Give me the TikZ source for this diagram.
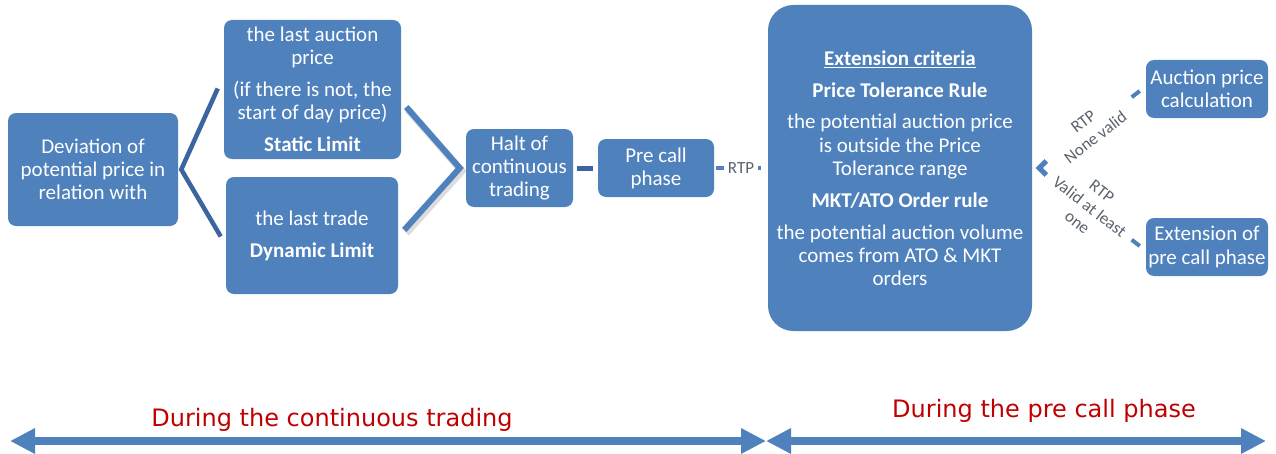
\documentclass[tikz,border=0pt]{standalone}
\usepackage{fontspec}
\setmainfont{Carlito}
\newfontfamily\djv{DejaVu Sans}
\usetikzlibrary{arrows.meta,calc}
\definecolor{boxblue}{RGB}{79,129,189}
\definecolor{darkln}{RGB}{60,100,158}
\definecolor{lblgray}{RGB}{90,98,110}
\definecolor{capred}{RGB}{192,0,0}
\newcommand{\mainsz}{\fontsize{15.75pt}{17.4pt}\selectfont}
\newcommand{\lblsz}{\fontsize{12.75pt}{15pt}\selectfont}
\newcommand{\gp}{\\[6.5pt]}
\tikzset{
  box/.style={rectangle, rounded corners=6pt, fill=boxblue, text=white, align=center, inner sep=0pt, font=\mainsz},
  leftconn/.style={darkln, line width=3.4pt, line join=miter},
  rightconn/.style={boxblue, line width=4.5pt, line join=miter},
  rshadow/.style={black!55, opacity=0.25, line width=5.5pt, line join=miter},
  shortdash/.style={line width=3pt},
  lbl/.style={text=lblgray, font=\lblsz, align=center, inner sep=1pt},
  bigarrow/.style={boxblue, line width=6pt, {Triangle[length=18.75pt,width=18pt]}-{Triangle[length=18.75pt,width=18pt]}},
  caption/.style={text=capred, font={\djv\fontsize{18pt}{21pt}\selectfont}, inner sep=0pt}
}
\begin{document}
\begin{tikzpicture}[x=0.75pt,y=-0.75pt]
\useasboundingbox (0,0) rectangle (1276,453);

% boxes
\node[box, minimum width=127.5pt, minimum height=84.75pt] (dev) at (93,169.5) {Deviation of\\potential price in\\relation with};
\node[box, minimum width=132.75pt, minimum height=104.25pt] (stat) at (312.5,89.5) {the last auction\\price\gp(if there is not, the\\start of day price)\gp\textbf{Static Limit}};
\node[box, minimum width=129pt, minimum height=87.75pt] (dyn) at (312,235.5) {the last trade\gp\textbf{Dynamic Limit}};
\node[box, minimum width=80.25pt, minimum height=58.5pt] (halt) at (519.5,168) {Halt of\\continuous\\trading};
\node[box, minimum width=87pt, minimum height=43.5pt] (pre) at (656,168) {Pre call\\phase};
\node[box, rounded corners=19pt, minimum width=198pt, minimum height=244.5pt] (ext) at (900,168) {\underline{\textbf{Extension criteria}}\gp\textbf{Price Tolerance Rule}\gp the potential auction price\\is outside the Price\\Tolerance range\gp\textbf{MKT/ATO Order rule}\gp the potential auction volume\\comes from ATO \& MKT\\orders};
\node[box, minimum width=91.5pt, minimum height=43.5pt] (apc) at (1207,89) {Auction price\\calculation};
\node[box, minimum width=91.5pt, minimum height=43.5pt] (epc) at (1207,247) {Extension of\\pre call phase};

% left connector
\draw[leftconn] ($(stat.west)+(-6,-1)$) -- ($(dev.east)+(3,0)$) -- ($(dyn.west)+(-5,1)$);

% right connector with shadow
\draw[rshadow] ($(stat.east)+(7,20.5)$) -- ($(halt.west)+(-4,3)$) -- ($(dyn.east)+(8,-2.5)$);
\draw[rightconn] ($(stat.east)+(5,17.5)$) -- ($(halt.west)+(-6,0)$) -- ($(dyn.east)+(6,-5.5)$);

% halt to pre call
\draw[darkln, line width=3.75pt, shorten <=3pt, shorten >=3.75pt] (halt.east) -- (pre.west);

% pre call to extension
\draw[boxblue, shortdash, shorten <=1.5pt, shorten >=5pt] (pre.east) -- node[fill=white, text=lblgray, font=\lblsz, inner xsep=2.6pt, inner ysep=1pt] {RTP} (ext.west);

% right outcomes
\coordinate (chev) at ($(ext.east)+(7,0)$);
\coordinate (upend) at ($(apc.west)+(-6,2)$);
\coordinate (lowend) at ($(epc.west)+(-6,-1)$);
\draw[boxblue, line width=3.8pt, line join=miter] ($(chev)+(7,-7)$) -- (chev) -- ($(chev)+(7,7)$);
\draw[boxblue, shortdash] ($(chev)!0.92!(upend)$) -- (upend);
\draw[boxblue, shortdash] ($(chev)!0.92!(lowend)$) -- (lowend);
\path (chev) -- node[sloped, lbl] {RTP\\None valid} (upend);
\path (chev) -- node[sloped, lbl] {RTP\\Valid at least\\one} (lowend);

% bottom timeline
\coordinate (t1) at (10,441);
\coordinate (t2) at (766,441);
\coordinate (t3) at (1266,441);
\draw[bigarrow] (t1) -- (t2);
\draw[bigarrow] (t2) -- (t3);
\node[caption] (cap1) at (332,420) {During the continuous trading};
\node[caption] (cap2) at (1044,411) {During the pre call phase};
\end{tikzpicture}
\end{document}
